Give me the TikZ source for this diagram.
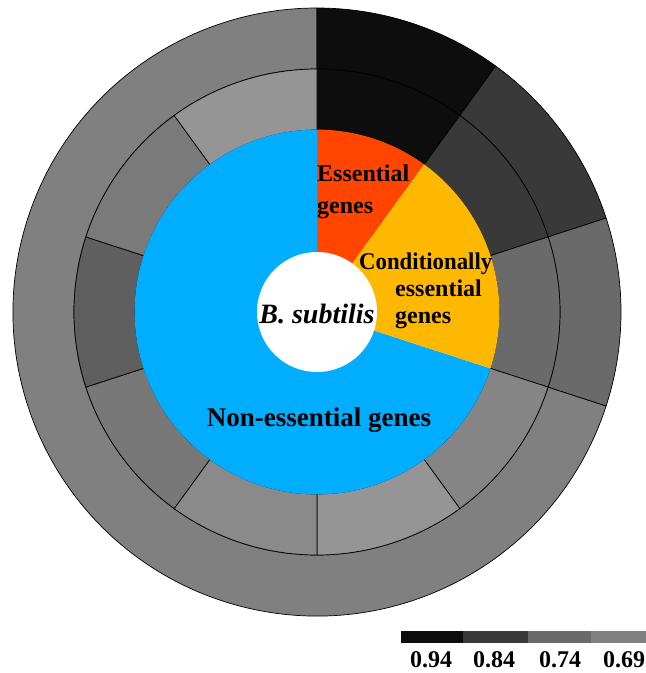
\documentclass[tikz,border=0pt]{standalone}
\usepackage{fontspec}
\setmainfont{Liberation Serif}
\usepackage{graphicx}
\definecolor{g94}{HTML}{0D0D0D}
\definecolor{g84}{HTML}{393939}
\definecolor{g74}{HTML}{6A6A6A}
\definecolor{g69}{HTML}{808080}
\definecolor{gA}{HTML}{959595}
\definecolor{gB}{HTML}{7A7A7A}
\definecolor{gC}{HTML}{5F5F5F}
\definecolor{gD}{HTML}{787878}
\definecolor{gE}{HTML}{8A8A8A}
\definecolor{gF}{HTML}{959595}
\definecolor{gG}{HTML}{858585}
\definecolor{essred}{HTML}{FF4500}
\definecolor{condyel}{HTML}{FFB800}
\definecolor{nonblue}{HTML}{00ADFF}
\newcommand{\ringsec}[5]{%
  \filldraw[sector, fill=#5, shift={(317,-312)}] (#1:#3) arc[start angle=#1, end angle=#2, radius=#3] -- (#2:#4) arc[start angle=#2, end angle=#1, radius=#4] -- cycle;}
\newcommand{\piesec}[3]{%
  \fill[#3, shift={(317,-312)}] (0,0) -- (#1:182.4) arc[start angle=#1, end angle=#2, radius=182.4] -- cycle;}
\begin{document}
\begin{tikzpicture}[x=1pt,y=1pt,
  sector/.style={draw=black, line width=0.7pt},
  lbl/.style={font=\fontsize{24}{28}\selectfont\bfseries, inner sep=0pt},
  biglbl/.style={font=\fontsize{27}{30}\selectfont\bfseries, inner sep=0pt},
  leg/.style={font=\fontsize{24}{28}\selectfont\bfseries, inner sep=0pt}]
\useasboundingbox (0,0) rectangle (646,-673);
% outer ring
\ringsec{90}{342}{243}{304}{g69}
\ringsec{54}{90}{243}{304}{g94}
\ringsec{18}{54}{243}{304}{g84}
\ringsec{-18}{18}{243}{304}{g74}
% inner ring
\ringsec{54}{90}{182}{243}{g94}
\ringsec{18}{54}{182}{243}{g84}
\ringsec{-18}{18}{182}{243}{g74}
\ringsec{-54}{-18}{182}{243}{gG}
\ringsec{-90}{-54}{182}{243}{gF}
\ringsec{-126}{-90}{182}{243}{gE}
\ringsec{-162}{-126}{182}{243}{gD}
\ringsec{162}{198}{182}{243}{gC}
\ringsec{126}{162}{182}{243}{gB}
\ringsec{90}{126}{182}{243}{gA}
% pie
\piesec{90}{342}{nonblue}
\piesec{54}{90}{essred}
\piesec{-18}{54}{condyel}
\fill[white] (317,-312) circle[radius=60];
% labels
\node[lbl, anchor=base west] (ess1) at (317,-181) {Essential};
\node[lbl, anchor=base west] (ess2) at (317,-213) {genes};
\node[lbl, anchor=base west] (cond1) at (359,-269) {\scalebox{0.95}[1]{Conditionally}};
\node[lbl, anchor=base west] (cond2) at (395,-296) {essential};
\node[lbl, anchor=base west] (cond3) at (395,-323) {genes};
\node[biglbl, anchor=base, font=\fontsize{28}{30}\selectfont\bfseries] (org) at (317,-323) {\itshape B. subtilis};
\node[biglbl, anchor=base] (non) at (319,-426) {Non-essential genes};
% legend
\begin{scope}
\clip (0,0) rectangle (646,-673);
\fill[g94] (401,-631) rectangle (463,-643);
\fill[g84] (463,-631) rectangle (528,-643);
\fill[g74] (528,-631) rectangle (591,-643);
\fill[g69] (591,-631) rectangle (660,-643);
\node[leg, anchor=base] (l94) at (431,-667) {0.94};
\node[leg, anchor=base] (l84) at (494,-667) {0.84};
\node[leg, anchor=base] (l74) at (560,-667) {0.74};
\node[leg, anchor=base west] (l69) at (603,-667) {0.69};
\end{scope}
\end{tikzpicture}
\end{document}
